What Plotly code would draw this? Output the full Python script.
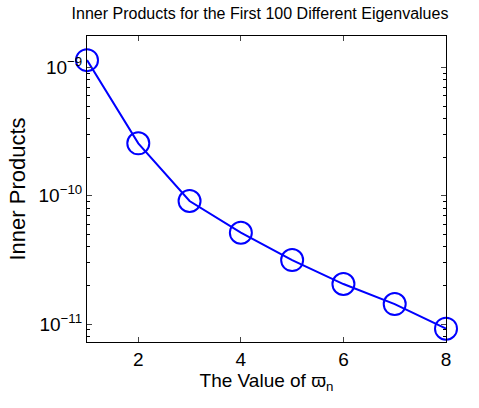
import plotly.graph_objects as go

x_vals = [1, 2, 3, 4, 5, 6, 7, 8]
inner_products = [1.14e-9, 2.56e-10, 9.1e-11, 5.15e-11, 3.15e-11, 2.05e-11, 1.43e-11, 9.2e-12]

y_major = [1e-9, 1e-10, 1e-11]
y_major_text = ["10<sup>−9</sup>", "10<sup>−10</sup>", "10<sup>−11</sup>"]
x_ticks = [2, 4, 6, 8]

minor_vals = [m * 10.0**e for e in (-12, -11, -10, -9) for m in range(2, 10)]

font = "Liberation Sans, Arial, sans-serif"
blue = "#0000ff"

fig = go.Figure()
fig.add_trace(go.Scatter(
    x=x_vals, y=inner_products, mode="lines+markers",
    line=dict(color=blue, width=2),
    marker=dict(symbol="circle-open", size=22, color=blue, line=dict(width=2, color=blue)),
    cliponaxis=False, showlegend=False,
))

fig.update_layout(
    width=479, height=408,
    margin=dict(l=87, r=33, t=36, b=66, autoexpand=False),
    paper_bgcolor="white", plot_bgcolor="white",
    font=dict(family=font, color="black"),
    title=dict(text="Inner Products for the First 100 Different Eigenvalues",
               x=260/479, xanchor="center", xref="container",
               y=1 - 13/408, yanchor="middle", yref="container",
               font=dict(size=16, family=font, color="black")),
)
fig.update_xaxes(
    range=[1, 8], tickvals=x_ticks, ticks="inside", ticklen=5, tickwidth=1,
    showline=True, linecolor="black", linewidth=1, mirror="ticks",
    showgrid=False, zeroline=False, tickfont=dict(size=19, family=font),
    automargin=False,
    title=dict(text="The Value of ϖ<sub>n</sub>", font=dict(size=19, family=font), standoff=2),
)
fig.update_yaxes(
    type="log", range=[-11.14, -8.755], tickvals=y_major, ticktext=y_major_text,
    ticks="inside", ticklen=5, tickwidth=1,
    minor=dict(tickvals=minor_vals, ticks="inside", ticklen=3, tickcolor="black", showgrid=False),
    showline=True, linecolor="black", linewidth=1, mirror="ticks",
    showgrid=False, zeroline=False, tickfont=dict(size=19, family=font),
    automargin=False,
    title=dict(text="Inner Products", font=dict(size=22, family=font), standoff=6),
)

fig.write_html("out.html", config={"displayModeBar": False},
               post_script="document.body.style.margin='0';document.body.style.overflow='hidden';")
